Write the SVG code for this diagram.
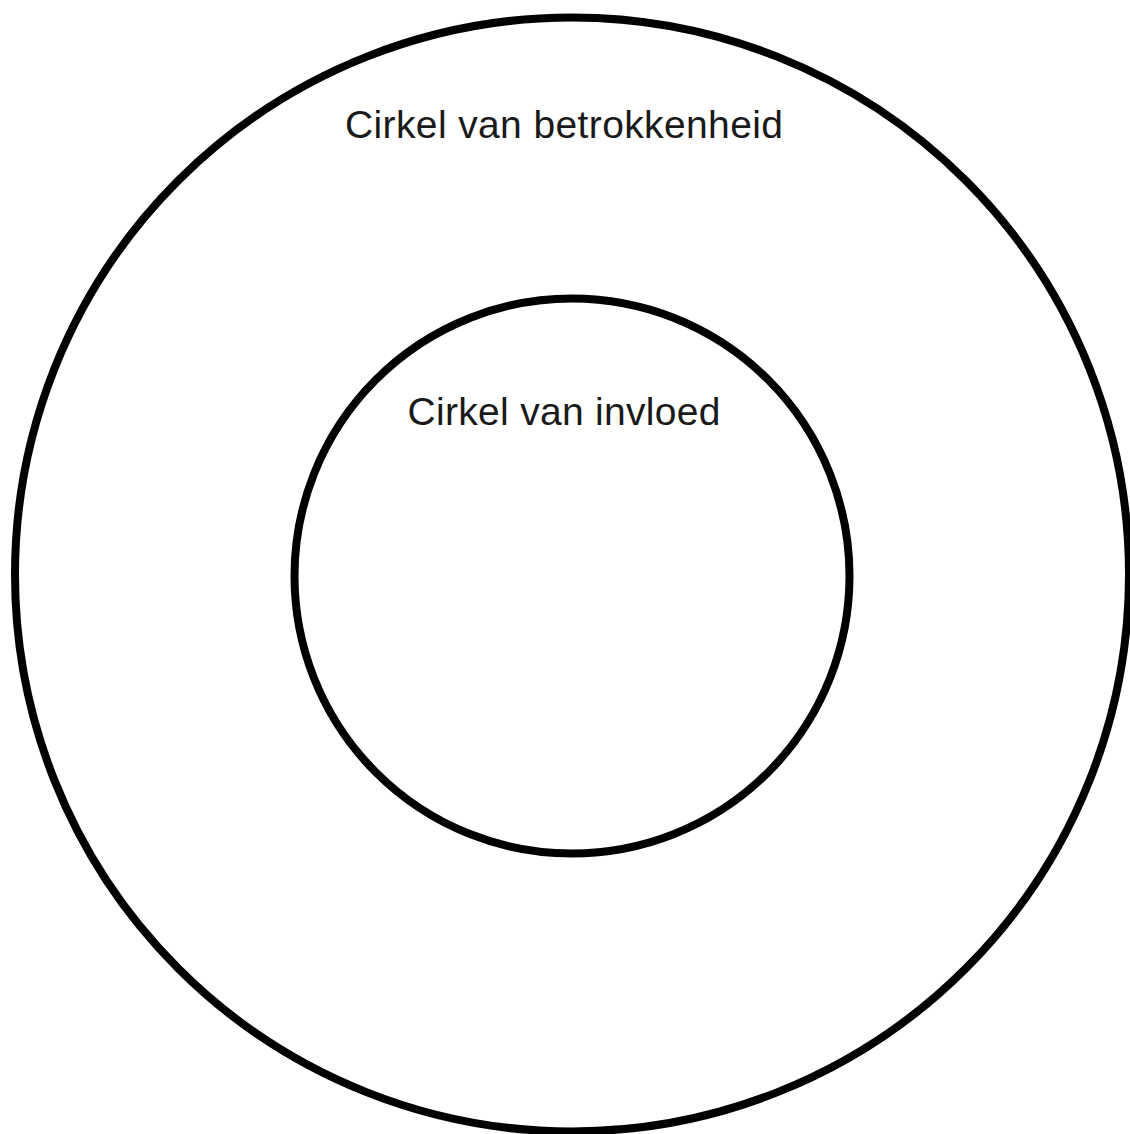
<svg xmlns="http://www.w3.org/2000/svg" width="1130" height="1134" viewBox="0 0 1130 1134">
<style>
.ring{fill:none;stroke:#000;stroke-width:8}
.lbl{font-family:"Liberation Sans",Arial,sans-serif;font-size:39px;fill:#1a1a1a;text-anchor:middle}
</style>
<rect width="1130" height="1134" fill="#fff"/>
<g id="outer">
<circle class="ring" cx="572" cy="574.5" r="557"/>
<text class="lbl" x="564" y="138" textLength="438" lengthAdjust="spacing">Cirkel van betrokkenheid</text>
</g>
<g id="inner">
<circle class="ring" cx="572" cy="576" r="277.5"/>
<text class="lbl" x="564" y="425" textLength="313" lengthAdjust="spacing">Cirkel van invloed</text>
</g>
<g id="connectors"/>
</svg>
